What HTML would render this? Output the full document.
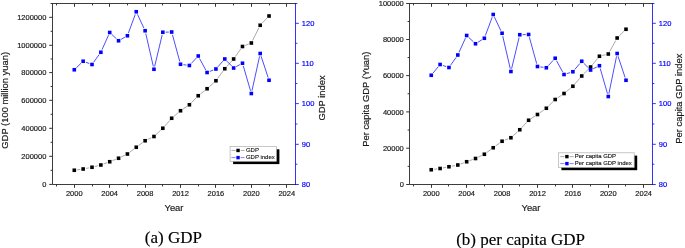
<!DOCTYPE html>
<html><head><meta charset="utf-8"><style>
html,body{margin:0;padding:0;background:#fff;}
body{width:685px;height:248px;overflow:hidden;font-family:"Liberation Sans",sans-serif;}
svg{display:block;will-change:transform;}
</style></head><body>
<svg width="685" height="248" viewBox="0 0 685 248">
<rect width="685" height="248" fill="#fff"/>
<g fill="none">
<path d="M52.5 3.5H295.5M52.5 3.5V184.5H295.5" stroke="#333" stroke-width="0.95" stroke-linecap="square"/>
<path d="M295.5 3.5V184.5" stroke="#0000ff" stroke-width="0.8" stroke-linecap="square"/>
<path d="M56.5 184.5v1.9M56.5 3.5v1.9M74.5 184.5v3.3M74.5 3.5v3.3M92.5 184.5v1.9M92.5 3.5v1.9M109.5 184.5v3.3M109.5 3.5v3.3M127.5 184.5v1.9M127.5 3.5v1.9M145.5 184.5v3.3M145.5 3.5v3.3M162.5 184.5v1.9M162.5 3.5v1.9M180.5 184.5v3.3M180.5 3.5v3.3M198.5 184.5v1.9M198.5 3.5v1.9M215.5 184.5v3.3M215.5 3.5v3.3M233.5 184.5v1.9M233.5 3.5v1.9M251.5 184.5v3.3M251.5 3.5v3.3M269.5 184.5v1.9M269.5 3.5v1.9M286.5 184.5v3.3M286.5 3.5v3.3" stroke="#333" stroke-width="1.0"/>
<path d="M52.5 184.4h-3.3M52.5 170.35h-1.9M52.5 156.3h-3.3M52.5 142.3h-1.9M52.5 128.3h-3.3M52.5 114.3h-1.9M52.5 100.3h-3.3M52.5 86.45h-1.9M52.5 72.6h-3.3M52.5 58.95h-1.9M52.5 45.3h-3.3M52.5 31.32h-1.9M52.5 17.35h-3.3M52.5 3.5h-1.9" stroke="#333" stroke-width="1.0"/>
<path d="M295.5 184.5h3.3M295.5 164.2h1.9M295.5 144.3h3.3M295.5 124h1.9M295.5 103.6h3.3M295.5 83.5h1.9M295.5 63.3h3.3M295.5 43.3h1.9M295.5 23.3h3.3M295.5 3.5h1.9" stroke="#0000ff" stroke-width="0.8"/>
</g>
<g font-family="Liberation Sans, sans-serif" font-size="7.5" fill="#1a1a1a" stroke="#1a1a1a" stroke-width="0.18">
<text x="74.3" y="196" text-anchor="middle">2000</text>
<text x="109.71" y="196" text-anchor="middle">2004</text>
<text x="145.12" y="196" text-anchor="middle">2008</text>
<text x="180.52" y="196" text-anchor="middle">2012</text>
<text x="215.93" y="196" text-anchor="middle">2016</text>
<text x="251.34" y="196" text-anchor="middle">2020</text>
<text x="286.75" y="196" text-anchor="middle">2024</text>
<text x="46.4" y="187" text-anchor="end">0</text>
<text x="46.4" y="158.9" text-anchor="end">200000</text>
<text x="46.4" y="130.9" text-anchor="end">400000</text>
<text x="46.4" y="102.9" text-anchor="end">600000</text>
<text x="46.4" y="75.2" text-anchor="end">800000</text>
<text x="46.4" y="47.9" text-anchor="end">1000000</text>
<text x="46.4" y="19.95" text-anchor="end">1200000</text>
</g>
<g font-family="Liberation Sans, sans-serif" font-size="7.5" fill="#0000ff" stroke="#0000ff" stroke-width="0.18">
<text x="301.8" y="187.1">80</text>
<text x="301.8" y="146.9">90</text>
<text x="301.8" y="106.2">100</text>
<text x="301.8" y="65.9">110</text>
<text x="301.8" y="25.9">120</text>
</g>
<g font-family="Liberation Sans, sans-serif" font-size="9.4" fill="#1a1a1a" stroke="#1a1a1a" stroke-width="0.18">
<text x="174" y="211.3" text-anchor="middle">Year</text>
<text transform="translate(8.2 100.3) rotate(-90)" text-anchor="middle">GDP (100 million yuan)</text>
<text transform="translate(325.2 98) rotate(-90)" text-anchor="middle">GDP index</text>
</g>
<path d="M77.17 169.84L80.28 169.41M86 168.44L89.16 167.81M94.81 166.54L98.05 165.71M103.58 164L106.99 162.75M112.4 160.68L115.86 159.32M121.17 156.99L124.8 155.26M129.72 152.24L133.96 149.01M138.6 145.53L142.78 142.47M147.73 139.49L151.35 137.76M156.09 134.52L160.7 130.23M164.74 126.08L169.75 120.42M173.88 116.38L178.31 112.62M182.92 109.12L186.98 106.38M191.41 102.68L196.19 97.82M200.5 93.95L204.81 90.55M209.23 86.81L213.78 82.69M217.65 78.42L223.06 71.08M226.73 66.6L231.69 61.15M235.31 56.63L240.81 48.87M245.18 45.43L248.64 44.07M252.63 40.4L258.9 27.85M262.2 23.15L267.04 18.1" fill="none" stroke="#555" stroke-width="0.5"/>
<path d="M76.39 67.74L81.06 63.26M85.87 62.25L89.28 63.5M93.7 62.15L99.16 54.6M102.04 49.6L108.52 35.15M111.83 34.48L116.44 38.77M121.09 39.32L124.89 37.18M128.42 33.03L135.26 14.47M137.49 14.38L143.89 28.12M145.77 33.58L153.32 66.42M154.64 66.43L162.15 35.07M165.72 32.17L168.77 32.08M172.44 34.8L179.76 61.45M183.4 64.66L186.5 65.09M191.35 63.38L196.25 58.12M199.6 58.56L205.71 69.94M209.78 71.43L213.24 70.07M217.85 66.83L222.86 61.17M226.82 61.07L231.6 65.93M236.19 66.63L239.93 64.62M243.3 66.03L250.53 90.72M251.97 90.67L259.57 56.33M261.1 56.25L268.13 77.5" fill="none" stroke="#0000ff" stroke-width="0.7"/>
<g fill="#000">
<rect x="72.5" y="168.45" width="3.6" height="3.6"/>
<rect x="81.35" y="167.2" width="3.6" height="3.6"/>
<rect x="90.2" y="165.45" width="3.6" height="3.6"/>
<rect x="99.06" y="163.2" width="3.6" height="3.6"/>
<rect x="107.91" y="159.95" width="3.6" height="3.6"/>
<rect x="116.76" y="156.45" width="3.6" height="3.6"/>
<rect x="125.61" y="152.2" width="3.6" height="3.6"/>
<rect x="134.46" y="145.45" width="3.6" height="3.6"/>
<rect x="143.32" y="138.95" width="3.6" height="3.6"/>
<rect x="152.17" y="134.7" width="3.6" height="3.6"/>
<rect x="161.02" y="126.45" width="3.6" height="3.6"/>
<rect x="169.87" y="116.45" width="3.6" height="3.6"/>
<rect x="178.72" y="108.95" width="3.6" height="3.6"/>
<rect x="187.58" y="102.95" width="3.6" height="3.6"/>
<rect x="196.43" y="93.95" width="3.6" height="3.6"/>
<rect x="205.28" y="86.95" width="3.6" height="3.6"/>
<rect x="214.13" y="78.95" width="3.6" height="3.6"/>
<rect x="222.98" y="66.95" width="3.6" height="3.6"/>
<rect x="231.84" y="57.2" width="3.6" height="3.6"/>
<rect x="240.69" y="44.7" width="3.6" height="3.6"/>
<rect x="249.54" y="41.2" width="3.6" height="3.6"/>
<rect x="258.39" y="23.45" width="3.6" height="3.6"/>
<rect x="267.24" y="14.2" width="3.6" height="3.6"/>
</g>
<g fill="#0000ff">
<rect x="72.5" y="67.95" width="3.6" height="3.6"/>
<rect x="81.35" y="59.45" width="3.6" height="3.6"/>
<rect x="90.2" y="62.7" width="3.6" height="3.6"/>
<rect x="99.06" y="50.45" width="3.6" height="3.6"/>
<rect x="107.91" y="30.7" width="3.6" height="3.6"/>
<rect x="116.76" y="38.95" width="3.6" height="3.6"/>
<rect x="125.61" y="33.95" width="3.6" height="3.6"/>
<rect x="134.46" y="9.95" width="3.6" height="3.6"/>
<rect x="143.32" y="28.95" width="3.6" height="3.6"/>
<rect x="152.17" y="67.45" width="3.6" height="3.6"/>
<rect x="161.02" y="30.45" width="3.6" height="3.6"/>
<rect x="169.87" y="30.2" width="3.6" height="3.6"/>
<rect x="178.72" y="62.45" width="3.6" height="3.6"/>
<rect x="187.58" y="63.7" width="3.6" height="3.6"/>
<rect x="196.43" y="54.2" width="3.6" height="3.6"/>
<rect x="205.28" y="70.7" width="3.6" height="3.6"/>
<rect x="214.13" y="67.2" width="3.6" height="3.6"/>
<rect x="222.98" y="57.2" width="3.6" height="3.6"/>
<rect x="231.84" y="66.2" width="3.6" height="3.6"/>
<rect x="240.69" y="61.45" width="3.6" height="3.6"/>
<rect x="249.54" y="91.7" width="3.6" height="3.6"/>
<rect x="258.39" y="51.7" width="3.6" height="3.6"/>
<rect x="267.24" y="78.45" width="3.6" height="3.6"/>
</g>
<rect x="233.1" y="149.3" width="46.3" height="14.8" fill="#000"/>
<rect x="230.1" y="146.5" width="46.3" height="14.8" fill="#fff" stroke="#b0b0b0" stroke-width="0.7"/>
<path d="M231.4 150.45H235.6M240.7 150.45H244.5" stroke="#777" stroke-width="0.6"/>
<path d="M231.4 157.6H235.6M240.7 157.6H244.5" stroke="#0000ff" stroke-width="0.7" opacity="0.7"/>
<rect x="236.35" y="148.75" width="3.4" height="3.4" fill="#000"/>
<rect x="236.35" y="155.9" width="3.4" height="3.4" fill="#0000ff"/>
<g font-family="Liberation Sans, sans-serif" font-size="6.0" fill="#111" stroke="#111" stroke-width="0.12">
<text x="245.9" y="152.05">GDP</text>
<text x="245.9" y="159.2">GDP index</text>
</g>
<text x="173.4" y="242.9" text-anchor="middle" font-family="Liberation Serif, serif" font-size="17" fill="#000" stroke="#000" stroke-width="0.15">(a) GDP</text>
<g fill="none">
<path d="M409.5 3.5H652.5M409.5 3.5V184.5H652.5" stroke="#333" stroke-width="0.95" stroke-linecap="square"/>
<path d="M652.5 3.5V184.5" stroke="#0000ff" stroke-width="0.8" stroke-linecap="square"/>
<path d="M413.5 184.5v1.9M413.5 3.5v1.9M431.5 184.5v3.3M431.5 3.5v3.3M448.5 184.5v1.9M448.5 3.5v1.9M466.5 184.5v3.3M466.5 3.5v3.3M484.5 184.5v1.9M484.5 3.5v1.9M502.5 184.5v3.3M502.5 3.5v3.3M519.5 184.5v1.9M519.5 3.5v1.9M537.5 184.5v3.3M537.5 3.5v3.3M555.5 184.5v1.9M555.5 3.5v1.9M572.5 184.5v3.3M572.5 3.5v3.3M590.5 184.5v1.9M590.5 3.5v1.9M608.5 184.5v3.3M608.5 3.5v3.3M625.5 184.5v1.9M625.5 3.5v1.9M643.5 184.5v3.3M643.5 3.5v3.3" stroke="#333" stroke-width="1.0"/>
<path d="M409.5 184.5h-3.3M409.5 166.35h-1.9M409.5 148.2h-3.3M409.5 130.05h-1.9M409.5 111.9h-3.3M409.5 93.75h-1.9M409.5 75.6h-3.3M409.5 57.55h-1.9M409.5 39.5h-3.3M409.5 21.5h-1.9M409.5 3.5h-3.3" stroke="#333" stroke-width="1.0"/>
<path d="M652.5 184.5h3.3M652.5 164.2h1.9M652.5 144.3h3.3M652.5 124h1.9M652.5 103.6h3.3M652.5 83.5h1.9M652.5 63.3h3.3M652.5 43.3h1.9M652.5 23.3h3.3M652.5 3.5h1.9" stroke="#0000ff" stroke-width="0.8"/>
</g>
<g font-family="Liberation Sans, sans-serif" font-size="7.5" fill="#1a1a1a" stroke="#1a1a1a" stroke-width="0.18">
<text x="431.25" y="196" text-anchor="middle">2000</text>
<text x="466.66" y="196" text-anchor="middle">2004</text>
<text x="502.07" y="196" text-anchor="middle">2008</text>
<text x="537.47" y="196" text-anchor="middle">2012</text>
<text x="572.88" y="196" text-anchor="middle">2016</text>
<text x="608.29" y="196" text-anchor="middle">2020</text>
<text x="643.7" y="196" text-anchor="middle">2024</text>
<text x="403.8" y="187.1" text-anchor="end">0</text>
<text x="403.8" y="150.8" text-anchor="end">20000</text>
<text x="403.8" y="114.5" text-anchor="end">40000</text>
<text x="403.8" y="78.2" text-anchor="end">60000</text>
<text x="403.8" y="42.1" text-anchor="end">80000</text>
<text x="403.8" y="6.1" text-anchor="end">100000</text>
</g>
<g font-family="Liberation Sans, sans-serif" font-size="7.5" fill="#0000ff" stroke="#0000ff" stroke-width="0.18">
<text x="658.8" y="187.1">80</text>
<text x="658.8" y="146.9">90</text>
<text x="658.8" y="106.2">100</text>
<text x="658.8" y="65.9">110</text>
<text x="658.8" y="25.9">120</text>
</g>
<g font-family="Liberation Sans, sans-serif" font-size="9.4" fill="#1a1a1a" stroke="#1a1a1a" stroke-width="0.18">
<text x="531" y="211.3" text-anchor="middle">Year</text>
<text transform="translate(368.5 99.2) rotate(-90)" text-anchor="middle">Per capita GDP (Yuan)</text>
<text transform="translate(681.9 98.65) rotate(-90)" text-anchor="middle">Per capita GDP index</text>
</g>
<path d="M434.12 169.34L437.23 168.91M442.95 167.94L446.11 167.31M451.8 166.19L454.96 165.56M460.53 164L463.94 162.75M469.38 160.75L472.79 159.5M478.12 157.24L481.75 155.51M486.7 152.53L490.88 149.47M495.55 146.03L499.73 142.97M504.76 140.18L508.22 138.82M513.07 135.81L517.62 131.69M521.75 127.63L526.65 122.37M531.05 118.67L535.04 116.08M539.84 112.83L543.96 109.92M548.39 106.21L553.12 101.54M557.58 97.87L561.63 95.13M566.27 91.66L570.64 88.09M574.78 84.06L579.84 78.19M583.77 73.93L588.55 69.07M592.43 64.76L597.59 58.49M602.25 55.54L605.48 54.71M609.69 51.46L615.74 40.54M619.2 35.96L623.93 31.29" fill="none" stroke="#555" stroke-width="0.5"/>
<path d="M433.09 73.01L438.26 66.74M442.85 65.43L446.21 66.57M450.63 65.13L456.13 57.37M459 52.36L465.46 38.14M468.78 37.48L473.39 41.77M477.97 42.22L481.9 39.78M485.37 35.53L492.2 17.22M494.45 17.12L500.83 30.63M502.72 36.08L510.26 68.67M511.6 68.68L519.09 37.57M522.67 34.67L525.72 34.58M529.4 37.3L536.7 63.7M540.35 66.91L543.45 67.34M548.3 65.63L553.2 60.37M556.57 60.8L562.64 71.95M566.8 73.64L570.11 72.61M574.75 69.53L579.86 63.47M583.8 63.29L588.52 67.96M593.2 68.74L596.82 67.01M600.24 68.54L607.49 93.71M608.87 93.66L616.56 56.34M618.05 56.25L625.08 77.5" fill="none" stroke="#0000ff" stroke-width="0.7"/>
<g fill="#000">
<rect x="429.45" y="167.95" width="3.6" height="3.6"/>
<rect x="438.3" y="166.7" width="3.6" height="3.6"/>
<rect x="447.15" y="164.95" width="3.6" height="3.6"/>
<rect x="456.01" y="163.2" width="3.6" height="3.6"/>
<rect x="464.86" y="159.95" width="3.6" height="3.6"/>
<rect x="473.71" y="156.7" width="3.6" height="3.6"/>
<rect x="482.56" y="152.45" width="3.6" height="3.6"/>
<rect x="491.41" y="145.95" width="3.6" height="3.6"/>
<rect x="500.27" y="139.45" width="3.6" height="3.6"/>
<rect x="509.12" y="135.95" width="3.6" height="3.6"/>
<rect x="517.97" y="127.95" width="3.6" height="3.6"/>
<rect x="526.82" y="118.45" width="3.6" height="3.6"/>
<rect x="535.67" y="112.7" width="3.6" height="3.6"/>
<rect x="544.53" y="106.45" width="3.6" height="3.6"/>
<rect x="553.38" y="97.7" width="3.6" height="3.6"/>
<rect x="562.23" y="91.7" width="3.6" height="3.6"/>
<rect x="571.08" y="84.45" width="3.6" height="3.6"/>
<rect x="579.93" y="74.2" width="3.6" height="3.6"/>
<rect x="588.79" y="65.2" width="3.6" height="3.6"/>
<rect x="597.64" y="54.45" width="3.6" height="3.6"/>
<rect x="606.49" y="52.2" width="3.6" height="3.6"/>
<rect x="615.34" y="36.2" width="3.6" height="3.6"/>
<rect x="624.19" y="27.45" width="3.6" height="3.6"/>
</g>
<g fill="#0000ff">
<rect x="429.45" y="73.45" width="3.6" height="3.6"/>
<rect x="438.3" y="62.7" width="3.6" height="3.6"/>
<rect x="447.15" y="65.7" width="3.6" height="3.6"/>
<rect x="456.01" y="53.2" width="3.6" height="3.6"/>
<rect x="464.86" y="33.7" width="3.6" height="3.6"/>
<rect x="473.71" y="41.95" width="3.6" height="3.6"/>
<rect x="482.56" y="36.45" width="3.6" height="3.6"/>
<rect x="491.41" y="12.7" width="3.6" height="3.6"/>
<rect x="500.27" y="31.45" width="3.6" height="3.6"/>
<rect x="509.12" y="69.7" width="3.6" height="3.6"/>
<rect x="517.97" y="32.95" width="3.6" height="3.6"/>
<rect x="526.82" y="32.7" width="3.6" height="3.6"/>
<rect x="535.67" y="64.7" width="3.6" height="3.6"/>
<rect x="544.53" y="65.95" width="3.6" height="3.6"/>
<rect x="553.38" y="56.45" width="3.6" height="3.6"/>
<rect x="562.23" y="72.7" width="3.6" height="3.6"/>
<rect x="571.08" y="69.95" width="3.6" height="3.6"/>
<rect x="579.93" y="59.45" width="3.6" height="3.6"/>
<rect x="588.79" y="68.2" width="3.6" height="3.6"/>
<rect x="597.64" y="63.95" width="3.6" height="3.6"/>
<rect x="606.49" y="94.7" width="3.6" height="3.6"/>
<rect x="615.34" y="51.7" width="3.6" height="3.6"/>
<rect x="624.19" y="78.45" width="3.6" height="3.6"/>
</g>
<rect x="561.4" y="155.6" width="75.8" height="14.6" fill="#000"/>
<rect x="558.4" y="152.8" width="75.8" height="14.6" fill="#fff" stroke="#b0b0b0" stroke-width="0.7"/>
<path d="M560.2 156.6H564.5M569.6 156.6H573.8" stroke="#777" stroke-width="0.6"/>
<path d="M560.2 163.6H564.5M569.6 163.6H573.8" stroke="#0000ff" stroke-width="0.7" opacity="0.7"/>
<rect x="565.2" y="154.9" width="3.4" height="3.4" fill="#000"/>
<rect x="565.2" y="161.9" width="3.4" height="3.4" fill="#0000ff"/>
<g font-family="Liberation Sans, sans-serif" font-size="5.95" fill="#111" stroke="#111" stroke-width="0.12">
<text x="574.8" y="158.2">Per capita GDP</text>
<text x="574.8" y="165.2">Per capita GDP index</text>
</g>
<text x="520.6" y="244.5" text-anchor="middle" font-family="Liberation Serif, serif" font-size="17" fill="#000" stroke="#000" stroke-width="0.15">(b) per capita GDP</text>
</svg>
</body></html>
